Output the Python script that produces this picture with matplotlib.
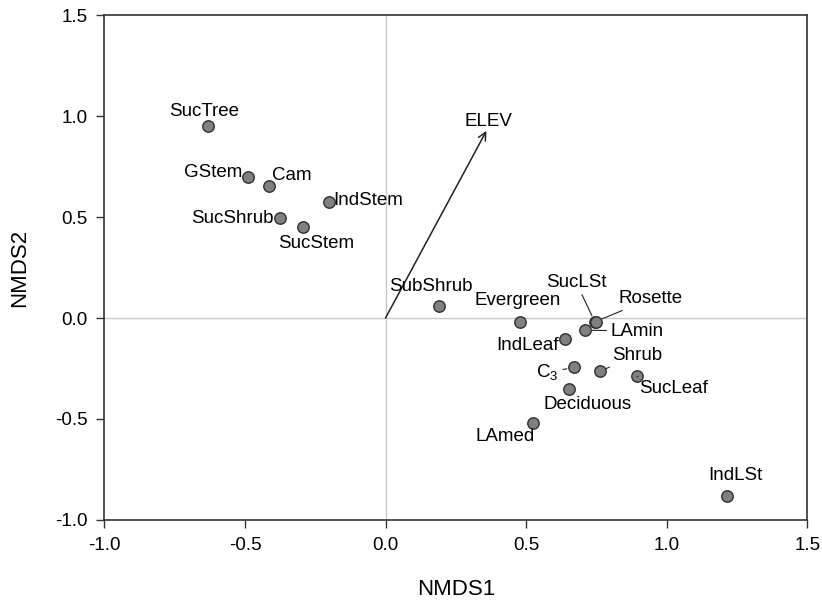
import matplotlib
matplotlib.use("Agg")
import matplotlib.pyplot as plt

plt.rcParams['font.family'] = ['Liberation Sans', 'DejaVu Sans']
plt.rcParams['mathtext.fontset'] = 'custom'
plt.rcParams['mathtext.rm'] = 'Liberation Sans'
plt.rcParams['mathtext.default'] = 'regular'

# trait scores on the two NMDS axes
traits = ['SucTree', 'GStem', 'Cam', 'IndStem', 'SucShrub', 'SucStem',
          'SubShrub', 'Evergreen', 'SucLSt', 'Rosette', 'LAmin', 'IndLeaf',
          'C3', 'Shrub', 'SucLeaf', 'Deciduous', 'LAmed', 'IndLSt']
nmds1 = [-0.633, -0.49, -0.415, -0.201, -0.376, -0.294,
         0.19, 0.48, 0.745, 0.747, 0.71, 0.64,
         0.669, 0.762, 0.895, 0.652, 0.524, 1.215]
nmds2 = [0.951, 0.698, 0.653, 0.575, 0.494, 0.452,
         0.06, -0.022, -0.02, -0.018, -0.06, -0.103,
         -0.245, -0.264, -0.288, -0.353, -0.518, -0.88]

# environmental vector
env_name = 'ELEV'
env_x = 0.359
env_y = 0.927

# label placement: (dx, dy) in pixels, horizontal alignment, leader line
label_pos = {
    'SucTree': (-3, 15, 'center', False),
    'GStem': (-5, 5, 'right', False),
    'Cam': (3, 11, 'left', False),
    'IndStem': (4, 1, 'left', False),
    'SucShrub': (-6, 0, 'right', False),
    'SucStem': (13, -17, 'center', False),
    'SubShrub': (-8, 19, 'center', False),
    'Evergreen': (-3, 22, 'center', False),
    'SucLSt': (-19, 40, 'center', True),
    'Rosette': (55, 23, 'center', True),
    'LAmin': (52, -1, 'center', True),
    'IndLeaf': (-7, -7, 'right', False),
    'C3': (-26, -5, 'center', True),
    'Shrub': (37, 16, 'center', True),
    'SucLeaf': (36, -12, 'center', True),
    'Deciduous': (19, -15, 'center', False),
    'LAmed': (-28, -14, 'center', False),
    'IndLSt': (8, 20, 'center', False),
}

fig = plt.figure(figsize=(8.22, 6.06), dpi=100)
ax = fig.add_axes([0.127, 0.142, 0.855, 0.833])

ax.axhline(0, color='#c8c8c8', lw=1, zorder=0)
ax.axvline(0, color='#c8c8c8', lw=1, zorder=0)

ax.annotate('', xy=(env_x, env_y), xytext=(0, 0),
            arrowprops=dict(arrowstyle='->', color='#222222', lw=1.1,
                            shrinkA=0, shrinkB=0, mutation_scale=14))
ax.annotate(env_name, xy=(env_x, env_y), xytext=(2, 9),
            textcoords='offset pixels', ha='center', va='center', fontsize=13.5)

ax.scatter(nmds1, nmds2, s=68, c='#808080', edgecolors='#303030',
           linewidths=1.0, zorder=3)

for name, x, y in zip(traits, nmds1, nmds2):
    dx, dy, ha, leader = label_pos[name]
    txt = 'C$_{3}$' if name == 'C3' else name
    props = None
    if leader:
        props = dict(arrowstyle='-', color='#222222', lw=0.8,
                     shrinkA=1, shrinkB=5)
    ax.annotate(txt, xy=(x, y), xytext=(dx, dy), textcoords='offset pixels',
                ha=ha, va='center', fontsize=13.5, arrowprops=props, zorder=4)

ax.set_xlim(-1.0, 1.5)
ax.set_ylim(-1.0, 1.5)
ax.set_xticks([-1.0, -0.5, 0.0, 0.5, 1.0, 1.5])
ax.set_yticks([-1.0, -0.5, 0.0, 0.5, 1.0, 1.5])
ax.set_xticklabels(['-1.0', '-0.5', '0.0', '0.5', '1.0', '1.5'])
ax.set_yticklabels(['-1.0', '-0.5', '0.0', '0.5', '1.0', '1.5'])
ax.tick_params(direction='out', length=6, width=1, labelsize=13.5, pad=6,
               color='#333333')
for sp in ax.spines.values():
    sp.set_color('#333333')
    sp.set_linewidth(1.2)

ax.set_xlabel('NMDS1', fontsize=16, labelpad=18)
ax.set_ylabel('NMDS2', fontsize=16, labelpad=18)

fig.savefig('out.png', dpi=100)
